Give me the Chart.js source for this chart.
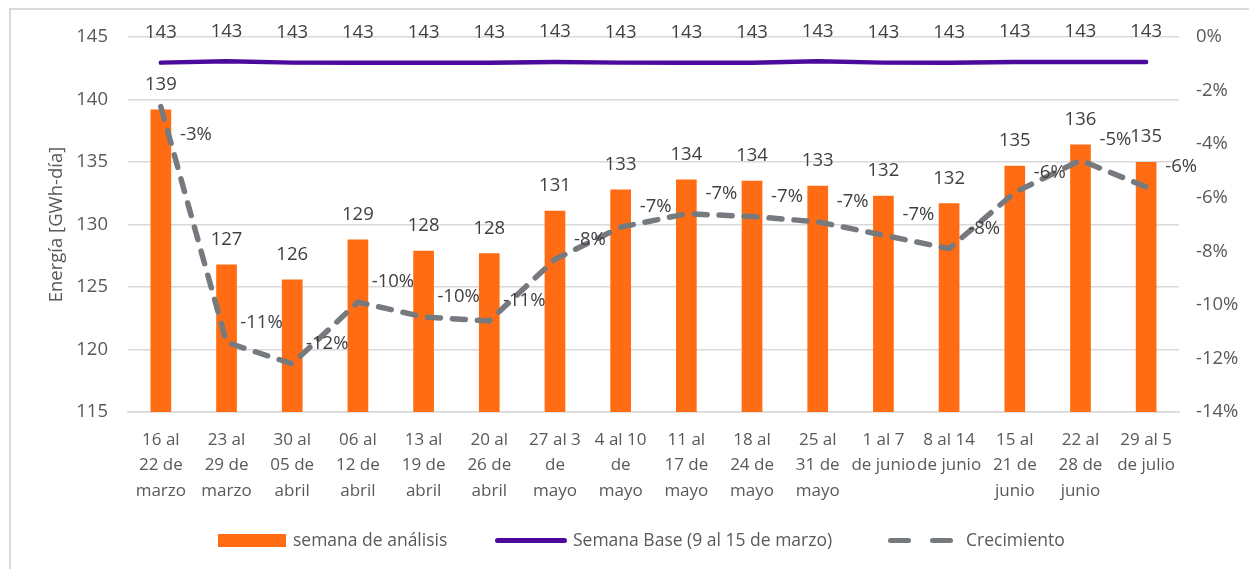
<!DOCTYPE html>
<html>
<head>
<meta charset="utf-8">
<script src="https://cdn.jsdelivr.net/npm/chart.js@4/dist/chart.umd.min.js"></script>
<style>
  body { margin: 0; background: #fff; }
  #wrap { position: relative; width: 1249px; height: 569px; font-family: "Open Sans", Lato, sans-serif; color: #595959; }
  #frame { position: absolute; left: 9px; top: 8px; right: -2px; bottom: -2px; border: 2px solid #d9d9d9; }
  canvas { position: absolute; left: 0; top: 0; }
  .leg { position: absolute; top: 527px; font-size: 17.5px; line-height: 24px; white-space: nowrap; }
  .sw { position: absolute; }
</style>
</head>
<body>
<div id="wrap">
  <div id="frame"></div>
  <canvas id="myChart" width="1249" height="569"></canvas>
  <!-- legend drawn as html -->
  <div class="sw" style="left:218px; top:534px; width:68px; height:13px; background:#FF6C13;"></div>
  <div class="leg" style="left:293px;">semana de análisis</div>
  <div class="sw" style="left:495px; top:538px; width:72px; height:5px; border-radius:3px; background:#4B0A9C;"></div>
  <div class="leg" style="left:573px;">Semana Base (9 al 15 de marzo)</div>
  <div class="sw" style="left:888px; top:538px; width:23px; height:5px; border-radius:3px; background:#767A7E;"></div>
  <div class="sw" style="left:930px; top:538px; width:23px; height:5px; border-radius:3px; background:#767A7E;"></div>
  <div class="leg" style="left:966px;">Crecimiento</div>
</div>
<script>
// categorias (semanas)
const weeks = [
    ['16 al', '22 de', 'marzo'], ['23 al', '29 de', 'marzo'], ['30 al', '05 de', 'abril'],
    ['06 al', '12 de', 'abril'], ['13 al', '19 de', 'abril'], ['20 al', '26 de', 'abril'],
    ['27 al 3', 'de', 'mayo'], ['4 al 10', 'de', 'mayo'], ['11 al', '17 de', 'mayo'],
    ['18 al', '24 de', 'mayo'], ['25 al', '31 de', 'mayo'], ['1 al 7', 'de junio'],
    ['8 al 14', 'de junio'], ['15 al', '21 de', 'junio'], ['22 al', '28 de', 'junio'],
    ['29 al 5', 'de julio']
];

// energia semana de analisis [GWh-dia]
const semanaAnalisis = [139.2, 126.8, 125.6, 128.8, 127.9, 127.7, 131.1, 132.8,
                        133.6, 133.5, 133.1, 132.3, 131.7, 134.7, 136.4, 135.0];

// semana base (9 al 15 de marzo)
const semanaBase = [142.95, 143.05, 142.95, 142.95, 142.95, 142.95, 143.0, 142.95,
                    142.95, 142.95, 143.05, 142.95, 142.95, 143.0, 143.0, 143.0];

// crecimiento vs semana base
const crecimiento = [-0.026, -0.114, -0.122, -0.099, -0.1045, -0.106, -0.083, -0.071,
                     -0.066, -0.067, -0.069, -0.074, -0.079, -0.058, -0.046, -0.056];

// ticks
const energyTicks = [115, 120, 125, 130, 135, 140, 145];
const pctTicks = [0, -0.02, -0.04, -0.06, -0.08, -0.10, -0.12, -0.14];

const TEXT = '#595959';
const LABEL = '#404040';
const FONT = '"Open Sans", Lato, sans-serif';

// simple data labels, no plugin available offline
const valueLabels = {
    id: 'valueLabels',
    afterDatasetsDraw(chart) {
        const ctx = chart.ctx;
        ctx.save();
        ctx.font = '18.5px ' + FONT;
        ctx.fillStyle = LABEL;
        ctx.textAlign = 'center';
        ctx.textBaseline = 'middle';
        const bars = chart.getDatasetMeta(0).data;
        bars.forEach((bar, i) => {
            ctx.fillText(Math.round(semanaAnalisis[i]), bar.x, bar.y - 25);
        });
        chart.getDatasetMeta(1).data.forEach((pt, i) => {
            ctx.fillText(Math.round(semanaBase[i]), pt.x, pt.y - 30);
        });
        chart.getDatasetMeta(2).data.forEach((pt, i) => {
            let y = pt.y - 20;
            // move below the point if it would sit on the bar label
            if (Math.abs(y - (bars[i].y - 25)) < 18) y = pt.y + 28;
            ctx.fillText(Math.round(crecimiento[i] * 100) + '%', pt.x + 35, y);
        });
        ctx.restore();
    }
};

const config = {
    data: {
        labels: weeks,
        datasets: [
            {
                type: 'bar',
                label: 'semana de análisis',
                data: semanaAnalisis,
                backgroundColor: '#FF6C13',
                barPercentage: 0.315,
                categoryPercentage: 1,
                yAxisID: 'y',
                order: 3
            },
            {
                type: 'line',
                label: 'Semana Base (9 al 15 de marzo)',
                data: semanaBase,
                borderColor: '#4B0A9C',
                borderWidth: 4.5,
                borderCapStyle: 'round',
                pointRadius: 0,
                yAxisID: 'y',
                order: 2
            },
            {
                type: 'line',
                label: 'Crecimiento',
                data: crecimiento,
                borderColor: '#767A7E',
                borderWidth: 5.5,
                borderDash: [13, 12],
                borderCapStyle: 'round',
                pointRadius: 0,
                yAxisID: 'y1',
                order: 1
            }
        ]
    },
    options: {
        responsive: false,
        animation: false,
        devicePixelRatio: 1,
        layout: { padding: { top: 37, bottom: 60, left: 0, right: 0 } },
        plugins: {
            legend: { display: false },
            tooltip: { enabled: false }
        },
        scales: {
            x: {
                grid: { display: false },
                border: { color: '#D9D9D9', width: 1.5 },
                ticks: {
                    color: TEXT,
                    font: { family: FONT, size: 17, lineHeight: 1.5 },
                    padding: 7,
                    maxRotation: 0,
                    autoSkip: false
                },
                afterFit(scale) { scale.height = 97; }
            },
            y: {
                position: 'left',
                min: 115,
                max: 145,
                afterBuildTicks(scale) { scale.ticks = energyTicks.map(v => ({ value: v })); },
                grid: { color: '#D9D9D9', lineWidth: 1.5, drawTicks: false },
                border: { display: false },
                ticks: { color: TEXT, font: { family: FONT, size: 18.5 }, padding: 20 },
                title: {
                    display: true,
                    text: 'Energía [GWh-día]',
                    color: TEXT,
                    font: { family: FONT, size: 18.5, lineHeight: 1.2 },
                    padding: { top: 46, bottom: 0 }
                },
                afterFit(scale) { scale.width = 128; }
            },
            y1: {
                position: 'right',
                min: -0.14,
                max: 0,
                afterBuildTicks(scale) { scale.ticks = pctTicks.map(v => ({ value: v })); },
                grid: { display: false, drawTicks: false },
                border: { display: false },
                ticks: {
                    color: TEXT,
                    font: { family: FONT, size: 18.5 },
                    padding: 17,
                    callback: (v) => (v * 100).toFixed(0) + '%'
                },
                afterFit(scale) { scale.width = 70; }
            }
        }
    },
    plugins: [valueLabels]
};

const myChart = new Chart(document.getElementById('myChart'), config);
</script>
</body>
</html>
